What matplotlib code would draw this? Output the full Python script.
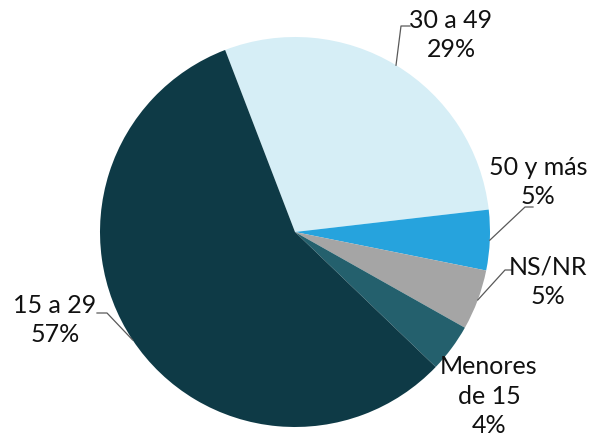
import numpy as np
import matplotlib.pyplot as plt

# Age groups, in clockwise order starting at the top-left boundary
categories = ["30 a 49", "50 y más", "NS/NR", "Menores\nde 15", "15 a 29"]
shares = [29, 5, 5, 4, 57]
colors = ["#d6eef6", "#26a3dd", "#a5a5a5", "#24606d", "#0e3a46"]

W, H = 610, 442
fig = plt.figure(figsize=(W / 100, H / 100), dpi=100)
ax = fig.add_axes([0, 0, 1, 1])

cx, cy, r = 295, H - 232, 195
wedges, _ = ax.pie(shares, colors=colors, startangle=111, counterclock=False,
                   center=(cx, cy), radius=r, frame=True,
                   wedgeprops=dict(linewidth=0))
ax.set_xlim(0, W)
ax.set_ylim(0, H)
ax.set_aspect("equal")
ax.axis("off")

# label centre (pixels from top) and leader elbow / end points
label_pos = [(451, 35), (538, 182), (548, 282), (489, 396), (55, 320)]
elbows = [((401, 26), (410, 26)), ((525, 207), (533, 207)),
          ((505, 270), (512, 270)), None, ((107, 313), (97, 313))]

for w, cat, val, pos, elb in zip(wedges, categories, shares, label_pos, elbows):
    ax.text(pos[0], H - pos[1], cat + "\n" + str(val) + "%", ha="center", va="center",
            fontsize=18, family="Lato", color="#111111", linespacing=1.33)
    if elb is None:
        continue
    ang = np.deg2rad((w.theta1 + w.theta2) / 2)
    x0, y0 = cx + r * np.cos(ang), cy + r * np.sin(ang)
    xs = [x0, elb[0][0], elb[1][0]]
    ys = [y0, H - elb[0][1], H - elb[1][1]]
    ax.plot(xs, ys, color="#595959", lw=0.9)

fig.savefig("out.png", dpi=100)
